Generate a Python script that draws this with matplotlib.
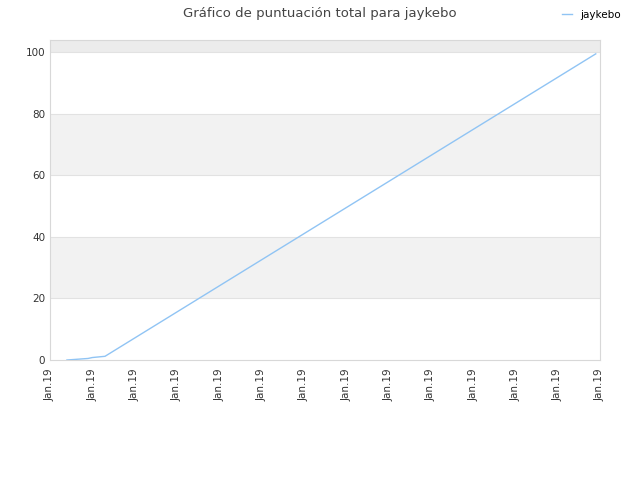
import matplotlib
matplotlib.use("Agg")
import matplotlib.pyplot as plt
from matplotlib.lines import Line2D

# datos de la serie (posición en el eje x, puntuación)
x_pos = [0.4, 0.9, 1.0, 1.3, 12.9]
puntos = [0.0, 0.5, 0.8, 1.2, 99.5]
etiquetas_x = ["Jan.19"] * 14
bandas = [(20, 40), (60, 80), (100, 104)]

fig = plt.figure(figsize=(6.4, 4.8), dpi=100)
ax = fig.add_axes([50 / 640, 120 / 480, 550 / 640, 320 / 480])

for b0, b1 in bandas:
    ax.axhspan(b0, b1, color="#f2f2f2" if b1 < 100 else "#ececec", zorder=0, lw=0)
for yv in [20, 40, 60, 80, 100]:
    ax.axhline(yv, color="#e2e2e2", lw=0.8, zorder=1)

ax.plot(x_pos, puntos, color="#90c4f4", lw=1, zorder=3)

ax.set_xlim(0, 13)
ax.set_ylim(0, 104)
ax.set_xticks(range(len(etiquetas_x)))
ax.set_xticklabels(etiquetas_x, rotation=90, fontsize=7.5, color="#333333")
ax.set_yticks([0, 20, 40, 60, 80, 100])
ax.tick_params(axis="y", labelsize=7.5, colors="#333333", length=0)
ax.tick_params(axis="x", length=0, pad=6)
for s in ax.spines.values():
    s.set_color("#d8d8d8")
    s.set_linewidth(0.8)

fig.text(0.5, 1 - 13 / 480, "Gráfico de puntuación total para jaykebo",
         ha="center", va="center", fontsize=9.5, color="#444444")
fig.legend(handles=[Line2D([], [], color="#90c4f4", lw=1)], labels=["jaykebo"],
           loc="center right", bbox_to_anchor=(0.985, 1 - 15 / 480), frameon=False,
           fontsize=7.5, handlelength=1.0, handletextpad=0.8)

fig.savefig("out.png", dpi=100)
